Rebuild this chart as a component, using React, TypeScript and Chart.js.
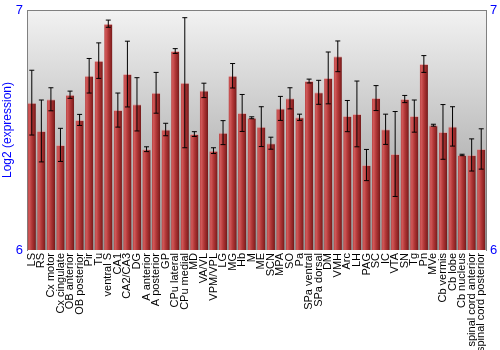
import React, { useEffect, useRef } from "react";
import { Chart, registerables } from "chart.js";

Chart.register(...registerables);

const categories = [
  "LS", "RS", "Cx motor", "Cx cingulate", "OB anterior", "OB posterior", "Pir", "Tu",
  "ventral S", "CA1", "CA2/CA3", "DG", "A anterior", "A posterior", "GP", "CPu lateral",
  "CPu medial", "MD", "VA/VL", "VPM/VPL", "LG", "MG", "Hb", "M", "ME", "SCN", "MPA", "SO",
  "Pa", "SPa ventral", "SPa dorsal", "DM", "VMH", "Arc", "LH", "PAG", "SC", "IC", "VTA",
  "SN", "Tg", "Pn", "MVe", "Cb vermis", "Cb lobe", "Cb nucleus", "spinal cord anterior",
  "spinal cord posterior",
];

const expression = [
  6.614, 6.496, 6.628, 6.438, 6.647, 6.542, 6.726, 6.789,
  6.943, 6.583, 6.733, 6.607, 6.42, 6.655, 6.502, 6.829,
  6.697, 6.483, 6.665, 6.414, 6.489, 6.726, 6.571, 6.551, 6.514, 6.445, 6.59, 6.632,
  6.553, 6.704, 6.657, 6.717, 6.807, 6.558, 6.567, 6.354, 6.633, 6.503, 6.4,
  6.629, 6.558, 6.775, 6.52, 6.492, 6.515, 6.396, 6.396,
  6.421,
];

const errors = [
  0.135, 0.129, 0.048, 0.069, 0.015, 0.023, 0.072, 0.074,
  0.015, 0.071, 0.137, 0.111, 0.01, 0.085, 0.026, 0.01,
  0.271, 0.01, 0.03, 0.012, 0.05, 0.051, 0.077, 0.004, 0.083, 0.025, 0.05, 0.044,
  0.013, 0.008, 0.05, 0.108, 0.064, 0.065, 0.137, 0.065, 0.052, 0.063, 0.177,
  0.015, 0.067, 0.035, 0.004, 0.114, 0.082, 0.003, 0.067,
  0.084,
];

const yTicks = [6, 7];

const bgPlugin = {
  id: "bgGradient",
  beforeDraw(chart: any) {
    const { ctx, chartArea } = chart;
    if (!chartArea) return;
    const g = ctx.createLinearGradient(0, chartArea.top, 0, chartArea.bottom);
    g.addColorStop(0, "#f2f2f2");
    g.addColorStop(1, "#959595");
    ctx.save();
    ctx.fillStyle = g;
    ctx.fillRect(chartArea.left, chartArea.top, chartArea.right - chartArea.left, chartArea.bottom - chartArea.top);
    ctx.strokeStyle = "#808080";
    ctx.lineWidth = 1;
    ctx.beginPath();
    ctx.moveTo(chartArea.left, Math.round(chartArea.top) + 0.5);
    ctx.lineTo(chartArea.right, Math.round(chartArea.top) + 0.5);
    ctx.stroke();
    ctx.restore();
  },
};

const errorPlugin = {
  id: "errorBars",
  afterDatasetsDraw(chart: any) {
    const { ctx } = chart;
    const xs = chart.scales.x;
    const ys = chart.scales.y;
    ctx.save();
    ctx.strokeStyle = "#000";
    ctx.lineWidth = 1;
    expression.forEach((v, i) => {
      const e = errors[i];
      const x = xs.getPixelForValue(i);
      const yTop = ys.getPixelForValue(v + e);
      const yBot = ys.getPixelForValue(v - e);
      ctx.beginPath();
      ctx.moveTo(x, yTop);
      ctx.lineTo(x, yBot);
      ctx.moveTo(x - 2.5, yTop);
      ctx.lineTo(x + 2.5, yTop);
      ctx.moveTo(x - 2.5, yBot);
      ctx.lineTo(x + 2.5, yBot);
      ctx.stroke();
    });
    ctx.restore();
  },
};

export default function App() {
  const ref = useRef<HTMLCanvasElement>(null);
  useEffect(() => {
    if (!ref.current) return;
    const chart = new Chart(ref.current, {
      type: "bar",
      data: {
        labels: categories,
        datasets: [
          {
            data: expression,
            backgroundColor: (c: any) => {
              const chart = c.chart;
              const xs = chart.scales?.x;
              if (!xs || c.dataIndex === undefined) return "#b03535";
              const cx = xs.getPixelForValue(c.dataIndex);
              if (!isFinite(cx)) return "#b03535";
              const w = 8.2;
              const g = chart.ctx.createLinearGradient(cx - w / 2, 0, cx + w / 2, 0);
              g.addColorStop(0, "#b84444");
              g.addColorStop(0.2, "#d05858");
              g.addColorStop(0.5, "#b23838");
              g.addColorStop(0.85, "#8a2222");
              g.addColorStop(1, "#6e1a1a");
              return g;
            },
            borderColor: "rgba(225,140,140,0.55)",
            borderWidth: { top: 1, left: 0, right: 0, bottom: 0 },
            borderSkipped: "bottom",
            categoryPercentage: 1,
            barPercentage: 0.86,
            base: 6,
          } as any,
        ],
      },
      options: {
        animation: false,
        responsive: false,
        maintainAspectRatio: false,
        layout: { padding: { top: 10, left: 0, right: 0, bottom: 0 } },
        plugins: { legend: { display: false }, tooltip: { enabled: false } },
        scales: {
          x: {
            grid: { display: false, drawTicks: false },
            border: { display: false },
            ticks: {
              autoSkip: false,
              maxRotation: 90,
              minRotation: 90,
              color: "#000",
              font: { family: "Arial, 'Liberation Sans'", size: 11 },
              padding: 3,
            },
            afterFit: (s: any) => {
              s.height = 100;
            },
          },
          y: {
            min: 6,
            max: 7,
            afterBuildTicks: (s: any) => {
              s.ticks = yTicks.map((v) => ({ value: v }));
            },
            grid: { display: false, drawOnChartArea: false, drawTicks: true, tickLength: 3, color: "#000" },
            border: { display: true, color: "#808080" },
            ticks: {
              color: "#0000ff",
              font: { family: "Arial, 'Liberation Sans'", size: 13 },
              padding: 1,
            },
            title: {
              display: true,
              text: "Log2 (expression)",
              color: "#0000ff",
              font: { family: "Arial, 'Liberation Sans'", size: 12 },
              padding: 0,
            },
            afterFit: (s: any) => {
              s.width = 27;
            },
          },
          y2: {
            position: "right",
            min: 6,
            max: 7,
            afterBuildTicks: (s: any) => {
              s.ticks = yTicks.map((v) => ({ value: v }));
            },
            grid: { display: false, drawOnChartArea: false, drawTicks: true, tickLength: 3, color: "#000" },
            border: { display: true, color: "#808080" },
            ticks: {
              color: "#0000ff",
              font: { family: "Arial, 'Liberation Sans'", size: 13 },
              padding: 1,
            },
            afterFit: (s: any) => {
              s.width = 14;
            },
          },
        },
      } as any,
      plugins: [bgPlugin, errorPlugin],
    });
    return () => chart.destroy();
  }, []);
  return (
    <div style={{ position: "fixed", left: 0, top: 0, width: 500, height: 350, background: "#fff" }}>
      <canvas ref={ref} width={500} height={350} style={{ width: 500, height: 350, display: "block" }} />
    </div>
  );
}
